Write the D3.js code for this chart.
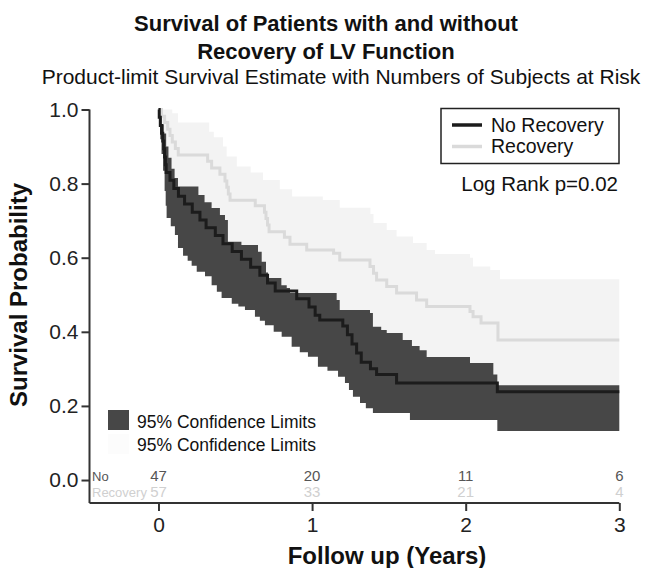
<!DOCTYPE html>
<html>
<head>
<meta charset="utf-8">
<script src="https://cdn.jsdelivr.net/npm/d3@7/dist/d3.min.js"></script>
<style>
  html, body { margin: 0; padding: 0; background: #fff; }
  svg { display: block; font-family: "Liberation Sans", Arial, Helvetica, sans-serif; }
</style>
</head>
<body>
<svg id="chart" width="651" height="568"></svg>
<script>
// ---------------- DATA ----------------
// No Recovery: Kaplan-Meier estimate (step times in years, survival after step)
const noRecTimes = [0, 0.005, 0.012, 0.02, 0.028, 0.034, 0.04, 0.045, 0.05, 0.075, 0.10, 0.13, 0.17, 0.22, 0.27, 0.31, 0.37, 0.42, 0.48, 0.54, 0.60, 0.66, 0.71, 0.76, 0.90, 0.98, 1.02, 1.05, 1.20, 1.23, 1.26, 1.29, 1.32, 1.38, 1.42, 1.55, 2.206];
const noRecSurv  = [1, 0.979, 0.957, 0.936, 0.915, 0.894, 0.872, 0.851, 0.830, 0.809, 0.787, 0.766, 0.745, 0.723, 0.702, 0.681, 0.660, 0.638, 0.617, 0.596, 0.574, 0.553, 0.532, 0.510, 0.489, 0.467, 0.445, 0.432, 0.416, 0.392, 0.367, 0.343, 0.318, 0.300, 0.285, 0.262, 0.238];
// No Recovery: 95% confidence limits
const noRecUpperTimes = [0, 0.02, 0.035, 0.05, 0.065, 0.085, 0.105, 0.127, 0.26, 0.30, 0.346, 0.40, 0.433, 0.452, 0.54, 0.648, 0.672, 0.70, 0.713, 0.80, 0.835, 0.856, 1.16, 1.18, 1.377, 1.396, 1.45, 1.486, 1.59, 1.65, 1.70, 1.746, 2.028, 2.18, 2.206];
const noRecUpper      = [1, 0.96, 0.935, 0.90, 0.87, 0.84, 0.815, 0.792, 0.769, 0.750, 0.734, 0.715, 0.702, 0.643, 0.634, 0.616, 0.589, 0.560, 0.545, 0.526, 0.518, 0.505, 0.486, 0.459, 0.451, 0.414, 0.405, 0.397, 0.378, 0.362, 0.350, 0.332, 0.316, 0.285, 0.256];
const noRecLowerTimes = [0, 0.005, 0.012, 0.02, 0.03, 0.04, 0.047, 0.053, 0.08, 0.107, 0.127, 0.16, 0.19, 0.216, 0.249, 0.303, 0.346, 0.38, 0.411, 0.477, 0.52, 0.563, 0.628, 0.66, 0.693, 0.75, 0.802, 0.867, 0.92, 0.973, 1.038, 1.10, 1.169, 1.214, 1.24, 1.266, 1.312, 1.35, 1.396, 1.637, 2.206];
const noRecLower      = [1, 0.96, 0.92, 0.88, 0.835, 0.78, 0.74, 0.707, 0.685, 0.661, 0.626, 0.605, 0.592, 0.578, 0.562, 0.550, 0.526, 0.508, 0.491, 0.476, 0.468, 0.459, 0.441, 0.430, 0.418, 0.400, 0.387, 0.360, 0.345, 0.333, 0.306, 0.295, 0.279, 0.262, 0.243, 0.225, 0.208, 0.194, 0.181, 0.162, 0.132];

// Recovery: Kaplan-Meier estimate
const recTimes = [0, 0.02, 0.04, 0.06, 0.075, 0.09, 0.11, 0.129, 0.32, 0.346, 0.40, 0.433, 0.445, 0.455, 0.466, 0.63, 0.69, 0.70, 0.71, 0.72, 0.82, 0.856, 0.965, 1.14, 1.18, 1.377, 1.40, 1.42, 1.486, 1.55, 1.68, 1.746, 2.028, 2.048, 2.10, 2.21];
const recSurv  = [1, 0.982, 0.965, 0.947, 0.930, 0.912, 0.895, 0.877, 0.860, 0.842, 0.825, 0.807, 0.790, 0.772, 0.755, 0.740, 0.723, 0.706, 0.688, 0.670, 0.655, 0.636, 0.621, 0.612, 0.594, 0.576, 0.558, 0.540, 0.522, 0.505, 0.486, 0.468, 0.455, 0.441, 0.424, 0.378];
// Recovery: 95% confidence limits
const recUpperTimes = [0, 0.09, 0.127, 0.33, 0.36, 0.42, 0.444, 0.51, 0.60, 0.68, 0.79, 0.87, 1.07, 1.18, 1.38, 1.40, 1.486, 1.55, 1.657, 1.746, 1.80, 2.028, 2.048, 2.16, 2.223];
const recUpper      = [1, 0.99, 0.965, 0.94, 0.925, 0.90, 0.873, 0.846, 0.830, 0.810, 0.785, 0.765, 0.756, 0.735, 0.718, 0.694, 0.675, 0.657, 0.640, 0.621, 0.610, 0.600, 0.576, 0.567, 0.542];
const recLowerTimes = [0, 0.02, 0.04, 0.08, 0.13, 0.35, 0.45, 0.47, 0.66, 0.70, 0.86, 1.18, 1.39, 1.745, 2.05, 2.20];
const recLower      = [1, 0.93, 0.85, 0.78, 0.74, 0.69, 0.62, 0.58, 0.52, 0.48, 0.45, 0.42, 0.34, 0.30, 0.28, 0.24];

// Numbers at risk
const riskTimes = [0, 1, 2, 3];
const riskNoRecovery = [47, 20, 11, 6];
const riskRecovery = [57, 33, 21, 4];

// Axis ticks
const xTicks = [0, 1, 2, 3];
const yTicks = [0.0, 0.2, 0.4, 0.6, 0.8, 1.0];
const followEnd = 3;

// ---------------- CHART ----------------
const svg = d3.select("#chart");
const FONT = '"Liberation Sans", Arial, Helvetica, sans-serif';

const x = d3.scaleLinear().domain([-0.449, 3]).range([89.5, 619.3]);
const y = d3.scaleLinear().domain([-0.062, 1]).range([503, 109.5]);

const C = {
  darkBand: "#474747", darkLine: "#1c1c1c",
  lightBand: "#f3f3f3", lightLine: "#dadada",
  axis: "#333", text: "#111"
};

function stepAt(times, vals, t) {
  let v = vals[0];
  for (let i = 0; i < times.length; i++) { if (times[i] <= t) v = vals[i]; else break; }
  return v;
}
function bandData(ut, uv, lt, lv) {
  const grid = Array.from(new Set([...ut, ...lt, followEnd])).sort((a, b) => a - b);
  return grid.map(t => ({ t, hi: stepAt(ut, uv, t), lo: stepAt(lt, lv, t) }));
}
function lineData(times, vals) {
  const pts = times.map((t, i) => ({ t, s: vals[i] }));
  pts.push({ t: followEnd, s: vals[vals.length - 1] });
  return pts;
}

const area = d3.area().curve(d3.curveStepAfter)
  .x(d => x(d.t)).y0(d => y(d.lo)).y1(d => y(d.hi));
const line = d3.line().curve(d3.curveStepAfter)
  .x(d => x(d.t)).y(d => y(d.s));

const plot = svg.append("g");
plot.append("path").datum(bandData(recUpperTimes, recUpper, recLowerTimes, recLower))
  .attr("d", area).attr("fill", C.lightBand);
plot.append("path").datum(bandData(noRecUpperTimes, noRecUpper, noRecLowerTimes, noRecLower))
  .attr("d", area).attr("fill", C.darkBand);
plot.append("path").datum(lineData(recTimes, recSurv))
  .attr("d", line).attr("fill", "none").attr("stroke", C.lightLine).attr("stroke-width", 3);
plot.append("path").datum(lineData(noRecTimes, noRecSurv))
  .attr("d", line).attr("fill", "none").attr("stroke", C.darkLine).attr("stroke-width", 3);

// Axes
const yAxis = d3.axisLeft(y).tickValues(yTicks).tickFormat(d3.format(".1f")).tickSize(8).tickPadding(3);
const gy = svg.append("g").attr("transform", `translate(${x.range()[0]},0)`).call(yAxis);
gy.select(".domain").attr("d", `M0,${y(1)}V${y.range()[0]}`);
const xAxis = d3.axisBottom(x).tickValues(xTicks).tickFormat(d3.format("d")).tickSize(8).tickPadding(6);
const gx = svg.append("g").attr("transform", `translate(0,${y.range()[0]})`).call(xAxis);
gx.select(".domain").attr("d", `M${x.range()[0]},0H${x(3)}`);
[gx, gy].forEach(g => {
  g.select(".domain").attr("stroke", C.axis).attr("stroke-width", 2);
  g.selectAll(".tick line").attr("stroke", C.axis).attr("stroke-width", 2);
  g.selectAll(".tick text").attr("fill", "#222").style("font-family", FONT).style("font-size", "21px");
});

// Numbers at risk
const yNo = y(0) - 4, yRec = y(0) + 12;
svg.append("text").attr("x", 92).attr("y", yNo + 5).attr("fill", "#555")
  .style("font-size", "13px").text("No");
svg.append("text").attr("x", 92).attr("y", yRec + 5).attr("fill", "#d0d0d0")
  .style("font-size", "13px").text("Recovery");
svg.append("g").selectAll("text").data(riskTimes).join("text")
  .attr("x", d => x(d)).attr("y", yNo + 5).attr("text-anchor", "middle")
  .attr("fill", "#555").style("font-size", "15px")
  .text((d, i) => riskNoRecovery[i]);
svg.append("g").selectAll("text").data(riskTimes).join("text")
  .attr("x", d => x(d)).attr("y", yRec + 5).attr("text-anchor", "middle")
  .attr("fill", "#d0d0d0").style("font-size", "15px")
  .text((d, i) => riskRecovery[i]);

// Titles
svg.append("text").attr("x", 326).attr("y", 31).attr("text-anchor", "middle")
  .attr("fill", C.text).style("font-size", "22px").style("font-weight", "bold")
  .text("Survival of Patients with and without");
svg.append("text").attr("x", 326).attr("y", 59).attr("text-anchor", "middle")
  .attr("fill", C.text).style("font-size", "22px").style("font-weight", "bold")
  .text("Recovery of LV Function");
svg.append("text").attr("x", 341).attr("y", 84).attr("text-anchor", "middle")
  .attr("fill", C.text).style("font-size", "21px")
  .text("Product-limit Survival Estimate with Numbers of Subjects at Risk");

// Axis titles
svg.append("text").attr("transform", "translate(27,295) rotate(-90)").attr("text-anchor", "middle")
  .attr("fill", C.text).style("font-size", "24px").style("font-weight", "bold")
  .text("Survival Probability");
svg.append("text").attr("x", 387).attr("y", 564).attr("text-anchor", "middle")
  .attr("fill", C.text).style("font-size", "24px").style("font-weight", "bold")
  .text("Follow up (Years)");

// Line legend
const lg = svg.append("g");
lg.append("rect").attr("x", 441).attr("y", 108.5).attr("width", 178).attr("height", 55)
  .attr("fill", "#fff").attr("stroke", "#222").attr("stroke-width", 1.5);
lg.append("line").attr("x1", 452).attr("x2", 482).attr("y1", 125).attr("y2", 125)
  .attr("stroke", C.darkLine).attr("stroke-width", 3.5);
lg.append("line").attr("x1", 452).attr("x2", 482).attr("y1", 146.5).attr("y2", 146.5)
  .attr("stroke", C.lightLine).attr("stroke-width", 3.5);
lg.append("text").attr("x", 491).attr("y", 131.5).attr("fill", C.text).style("font-size", "19.5px").text("No Recovery");
lg.append("text").attr("x", 491).attr("y", 153).attr("fill", C.text).style("font-size", "19.5px").text("Recovery");
svg.append("text").attr("x", 618).attr("y", 191).attr("text-anchor", "end")
  .attr("fill", C.text).style("font-size", "20.5px").text("Log Rank p=0.02");

// Band legend
const bl = svg.append("g");
bl.append("rect").attr("x", 108).attr("y", 410).attr("width", 21).attr("height", 20).attr("fill", C.darkBand);
bl.append("rect").attr("x", 108).attr("y", 434).attr("width", 21).attr("height", 20).attr("fill", "#fcfcfc");
bl.append("text").attr("x", 137).attr("y", 428).attr("fill", C.text).style("font-size", "17.5px").text("95% Confidence Limits");
bl.append("text").attr("x", 137).attr("y", 451).attr("fill", C.text).style("font-size", "17.5px").text("95% Confidence Limits");

svg.selectAll("text").style("font-family", FONT);
</script>
</body>
</html>
